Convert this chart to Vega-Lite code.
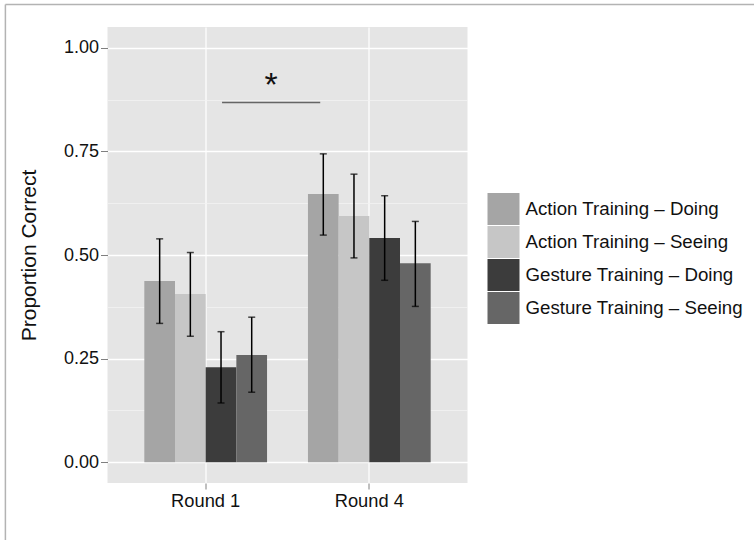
{
  "$schema": "https://vega.github.io/schema/vega-lite/v6.json",
  "autosize": {"type": "none"},
  "width": 360,
  "height": 456,
  "padding": {"left": 107.5, "top": 27, "right": 286.5, "bottom": 57},
  "background": "#ffffff",
  "config": {
    "font": "Liberation Sans",
    "view": {"fill": "#e5e5e5", "stroke": null},
    "axis": {"labelColor": "#111111", "titleColor": "#111111", "tickColor": "#808080", "domain": false}
  },
  "datasets": {
    "bars": [
      {"round": "Round 1", "group": "Action Training – Doing", "value": 0.437, "lo": 0.335, "hi": 0.539},
      {"round": "Round 1", "group": "Action Training – Seeing", "value": 0.406, "lo": 0.304, "hi": 0.506},
      {"round": "Round 1", "group": "Gesture Training – Doing", "value": 0.229, "lo": 0.143, "hi": 0.315},
      {"round": "Round 1", "group": "Gesture Training – Seeing", "value": 0.259, "lo": 0.169, "hi": 0.350},
      {"round": "Round 4", "group": "Action Training – Doing", "value": 0.647, "lo": 0.548, "hi": 0.744},
      {"round": "Round 4", "group": "Action Training – Seeing", "value": 0.594, "lo": 0.493, "hi": 0.695},
      {"round": "Round 4", "group": "Gesture Training – Doing", "value": 0.541, "lo": 0.439, "hi": 0.643},
      {"round": "Round 4", "group": "Gesture Training – Seeing", "value": 0.480, "lo": 0.376, "hi": 0.581}
    ],
    "sig": [{"x1": 1.1, "x2": 1.7, "y": 0.868, "xm": 1.4, "ystar": 0.8835, "label": "*"}],
    "frameTop": [{"x1": -0.224, "x2": 5, "y": 1.104}],
    "frameLeft": [{"x": -0.224, "y1": 1.104, "y2": -0.4}]
  },
  "resolve": {"scale": {"x": "independent"}},
  "layer": [
    {
      "data": {"name": "bars"},
      "encoding": {
        "x": {
          "field": "round", "type": "nominal",
          "scale": {"paddingInner": 0.25, "paddingOuter": 0.225},
          "axis": {"title": null, "labelAngle": 0, "labelFontSize": 18.3, "labelPadding": 3, "tickSize": 6, "grid": true, "gridColor": "#ffffff", "gridWidth": 1.2, "bandPosition": 0.5}
        },
        "xOffset": {
          "field": "group", "type": "nominal",
          "scale": {"paddingInner": 0, "paddingOuter": 0, "domain": ["Action Training – Doing", "Action Training – Seeing", "Gesture Training – Doing", "Gesture Training – Seeing"]}
        }
      },
      "layer": [
        {
          "mark": {"type": "bar"},
          "encoding": {
            "y": {
              "field": "value", "type": "quantitative", "title": "Proportion Correct",
              "scale": {"domain": [-0.05, 1.05], "nice": false, "zero": false},
              "axis": {
                "values": [0, 0.125, 0.25, 0.375, 0.5, 0.625, 0.75, 0.875, 1],
                "labelExpr": "(datum.value * 4) % 1 === 0 ? format(datum.value, '.2f') : ''",
                "labelFontSize": 18, "labelPadding": 2, "tickSize": 7,
                "tickOpacity": {"condition": {"test": "(datum.value * 4) % 1 !== 0", "value": 0}, "value": 1},
                "grid": true,
                "gridColor": {"condition": {"test": "(datum.value * 4) % 1 !== 0", "value": "#f2f2f2"}, "value": "#ffffff"},
                "gridWidth": {"condition": {"test": "(datum.value * 4) % 1 !== 0", "value": 0.8}, "value": 1.3},
                "titleFontSize": 21, "titleFontWeight": "normal", "titlePadding": 24
              }
            },
            "color": {
              "field": "group", "type": "nominal",
              "scale": {
                "domain": ["Action Training – Doing", "Action Training – Seeing", "Gesture Training – Doing", "Gesture Training – Seeing"],
                "range": ["#a5a5a5", "#c6c6c6", "#3c3c3c", "#666666"]
              },
              "legend": {
                "title": null, "orient": "none", "legendX": 380, "legendY": 166, "padding": 0,
                "symbolType": "square", "symbolSize": 1024, "symbolStrokeWidth": 0,
                "symbolOpacity": 1, "rowPadding": 1, "labelFontSize": 18.7, "labelOffset": 6, "labelColor": "#111111",
                "labelLimit": 400
              }
            }
          }
        },
        {
          "mark": {"type": "rule", "color": "#000000", "strokeWidth": 1.5},
          "encoding": {
            "y": {"field": "lo", "type": "quantitative", "title": "Proportion Correct"},
            "y2": {"field": "hi"}
          }
        },
        {
          "mark": {"type": "tick", "color": "#000000", "size": 7, "thickness": 1.5, "orient": "horizontal"},
          "encoding": {"y": {"field": "lo", "type": "quantitative", "title": "Proportion Correct"}}
        },
        {
          "mark": {"type": "tick", "color": "#000000", "size": 7, "thickness": 1.5, "orient": "horizontal"},
          "encoding": {"y": {"field": "hi", "type": "quantitative", "title": "Proportion Correct"}}
        }
      ]
    },
    {
      "layer": [
        {
          "data": {"name": "sig"},
          "mark": {"type": "rule", "color": "#666666", "strokeWidth": 1.6},
          "encoding": {
            "x": {"field": "x1", "type": "quantitative", "scale": {"domain": [0.4, 2.6], "nice": false, "zero": false}, "axis": null},
            "x2": {"field": "x2"},
            "y": {"field": "y", "type": "quantitative", "title": "Proportion Correct"}
          }
        },
        {
          "data": {"name": "sig"},
          "mark": {"type": "text", "fontSize": 34, "baseline": "alphabetic", "align": "center", "color": "#111111"},
          "encoding": {
            "x": {"field": "xm", "type": "quantitative"},
            "y": {"field": "ystar", "type": "quantitative", "title": "Proportion Correct"},
            "text": {"field": "label"}
          }
        },
        {
          "data": {"name": "frameTop"},
          "mark": {"type": "rule", "color": "#b3b3b3", "strokeWidth": 1.5},
          "encoding": {
            "x": {"field": "x1", "type": "quantitative"},
            "x2": {"field": "x2"},
            "y": {"field": "y", "type": "quantitative", "title": "Proportion Correct"}
          }
        },
        {
          "data": {"name": "frameLeft"},
          "mark": {"type": "rule", "color": "#b3b3b3", "strokeWidth": 1.5},
          "encoding": {
            "x": {"field": "x", "type": "quantitative"},
            "y": {"field": "y1", "type": "quantitative", "title": "Proportion Correct"},
            "y2": {"field": "y2"}
          }
        }
      ]
    }
  ]
}
